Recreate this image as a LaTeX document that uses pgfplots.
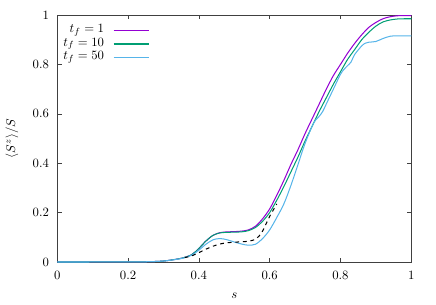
\documentclass[border=0pt]{standalone}
\usepackage{pgfplots}
\pgfplotsset{compat=1.18}
\definecolor{gpviolet}{RGB}{148,0,211}
\definecolor{gpgreen}{RGB}{0,158,115}
\definecolor{gpblue}{RGB}{86,180,233}
\begin{document}
\begin{tikzpicture}
\begin{axis}[
  scale only axis,
  width=277.5bp, height=193.6bp,
  xmin=0, xmax=1, ymin=0, ymax=1,
  xtick={0,0.2,...,1}, ytick={0,0.2,...,1},
  tick align=inside,
  major tick length=3.4bp,
  axis line style={black!75, line width=0.5bp},
  every tick/.style={black!75, line width=0.5bp},
  xticklabel style={yshift=-3.5bp},
  yticklabel style={xshift=-3bp},
  xlabel={$s$},
  ylabel={$\langle S^z\rangle/S$},
  xlabel style={at={(axis description cs:0.5,0)}, anchor=center, yshift=-26.4bp},
  ylabel style={at={(axis description cs:0,0.5)}, anchor=center, xshift=0pt, yshift=35.5bp},
  legend plot pos=right,
  legend cell align=right,
  legend style={draw=none, fill=none, at={(rel axis cs:0,1)}, xshift=4.5bp, yshift=-6.5bp,
    anchor=north west, row sep=0pt, inner sep=0pt, column sep=7bp,
    nodes={inner sep=0pt, text height=7bp, text depth=3.6bp}},
  legend image code/.code={\draw[#1, line width=1bp] plot coordinates {(0bp,0bp) (27.4bp,0bp)};},
  every axis plot/.append style={line width=0.8bp},
]
\addplot[gpviolet, smooth] coordinates {
(0,0) (0.1,0.0001) (0.2,0.0005) (0.25,0.001) (0.3,0.004) (0.35,0.015) (0.38,0.03)
(0.4,0.055) (0.42,0.085) (0.44,0.108) (0.46,0.119) (0.48,0.122) (0.5,0.123)
(0.52,0.125) (0.54,0.13) (0.56,0.145) (0.58,0.175) (0.6,0.215) (0.62,0.27)
(0.64,0.33) (0.66,0.395) (0.68,0.455) (0.7,0.52) (0.72,0.58) (0.74,0.64)
(0.76,0.70) (0.78,0.755) (0.8,0.80) (0.82,0.845) (0.84,0.885) (0.86,0.92)
(0.88,0.95) (0.9,0.97) (0.92,0.985) (0.94,0.993) (0.96,0.997) (0.98,0.998) (1,0.998)
};
\addlegendentry{$t_f = 1$}
\addplot[gpgreen, smooth] coordinates {
(0,0) (0.1,0.0001) (0.2,0.0005) (0.25,0.001) (0.3,0.004) (0.35,0.015) (0.38,0.03)
(0.4,0.055) (0.42,0.085) (0.44,0.108) (0.46,0.118) (0.48,0.12) (0.5,0.121)
(0.52,0.122) (0.54,0.127) (0.56,0.14) (0.58,0.165) (0.6,0.2) (0.62,0.25)
(0.64,0.305) (0.66,0.365) (0.68,0.425) (0.7,0.49) (0.72,0.55) (0.74,0.61)
(0.76,0.665) (0.78,0.72) (0.8,0.77) (0.82,0.82) (0.84,0.86) (0.86,0.90)
(0.88,0.93) (0.9,0.955) (0.92,0.972) (0.94,0.98) (0.96,0.984) (0.98,0.985) (1,0.985)
};
\addlegendentry{$t_f = 10$}
\addplot[gpblue, smooth] coordinates {
(0,0) (0.1,0.0001) (0.2,0.0005) (0.25,0.001) (0.3,0.004) (0.35,0.014) (0.38,0.028)
(0.4,0.048) (0.42,0.072) (0.44,0.09) (0.46,0.095) (0.48,0.09) (0.5,0.081)
(0.52,0.073) (0.54,0.068) (0.56,0.072) (0.58,0.095) (0.6,0.13) (0.62,0.18)
(0.64,0.235) (0.66,0.31) (0.68,0.395) (0.7,0.48) (0.72,0.55) (0.73,0.575)
(0.74,0.59) (0.75,0.61) (0.76,0.64) (0.78,0.70) (0.8,0.76) (0.81,0.78)
(0.82,0.795) (0.83,0.81) (0.84,0.84) (0.86,0.875) (0.87,0.886) (0.88,0.89)
(0.9,0.893) (0.92,0.905) (0.94,0.914) (0.96,0.916) (1,0.916)
};
\addlegendentry{$t_f = 50$}
\addplot[black, dashed, smooth, forget plot] coordinates {
(0.36,0.018) (0.38,0.025) (0.4,0.038) (0.42,0.052) (0.44,0.064) (0.46,0.073)
(0.48,0.078) (0.5,0.08) (0.52,0.082) (0.54,0.084) (0.56,0.092) (0.57,0.105)
(0.58,0.125) (0.59,0.155) (0.6,0.185) (0.61,0.21) (0.62,0.235)
};
\end{axis}
\path ([xshift=-44.9bp,yshift=-33.7bp]current axis.south west) rectangle ([xshift=19.4bp,yshift=11.8bp]current axis.north east);
\end{tikzpicture}
\end{document}
